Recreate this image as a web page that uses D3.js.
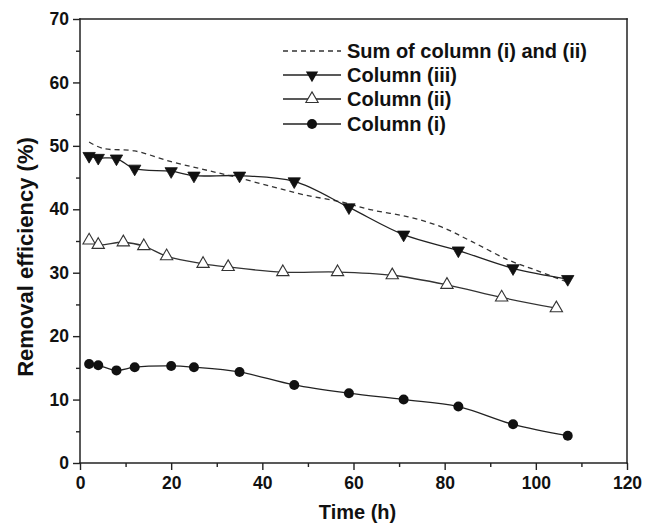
<!DOCTYPE html>
<html>
<head>
<meta charset="utf-8">
<script src="https://cdn.jsdelivr.net/npm/d3@7.9.0/dist/d3.min.js"></script>
<style>
  body { margin: 0; background: #fff; }
  svg text { font-family: "Liberation Sans", Arial, sans-serif; font-weight: bold; fill: #111; }
</style>
</head>
<body>
<svg width="646" height="524"></svg>
<script>
// time points (h)
const timeI = [2, 4, 8, 12, 20, 25, 35, 47, 59, 71, 83, 95, 107];
const timeII = [2, 4, 9.5, 14, 19, 27, 32.5, 44.5, 56.5, 68.5, 80.5, 92.5, 104.5];
const timeIII = [2, 4, 8, 12, 20, 25, 35, 47, 59, 71, 83, 95, 107];
const timeSum = [2, 5, 12, 20, 27, 34, 42, 49, 57, 64, 72, 79, 86, 94, 100, 107];

// removal efficiency (%)
const colI = [15.6, 15.4, 14.6, 15.1, 15.3, 15.1, 14.35, 12.3, 11.0, 10.0, 8.9, 6.1, 4.3];
const colII = [35.1, 34.4, 34.8, 34.2, 32.6, 31.4, 30.9, 30.1, 30.1, 29.6, 28.1, 26.1, 24.4];
const colIII = [48.4, 48.1, 48.0, 46.4, 46.0, 45.3, 45.3, 44.4, 40.3, 36.0, 33.5, 30.7, 29.0];
const sumI_II = [50.6, 49.6, 49.2, 47.5, 46.3, 45.1, 43.6, 42.3, 41.2, 39.9, 38.8, 37.3, 34.9, 32.0, 30.4, 28.5];

const xTicks = [0, 20, 40, 60, 80, 100, 120];
const yTicks = [0, 10, 20, 30, 40, 50, 60, 70];

const legendLabels = ["Sum of column (i) and (ii)", "Column (iii)", "Column (ii)", "Column (i)"];

const margin = { top: 19, right: 19, bottom: 61, left: 80 };
const width = 646, height = 524;

const svg = d3.select('svg');

let x = d3.scaleLinear().domain([0, 120]).range([margin.left, width - margin.right]);
let y = d3.scaleLinear().domain([0, 70]).range([height - margin.bottom, margin.top]);

const ink = '#222';

// x axis, major + minor ticks in separate groups
let xMinor = svg.append('g').attr('transform', `translate(0,${y(0)})`)
  .call(d3.axisBottom(x).tickValues(d3.range(10, 120, 20)).tickSize(4).tickFormat(''));
let xMajor = svg.append('g').attr('transform', `translate(0,${y(0)})`)
  .call(d3.axisBottom(x).tickValues(xTicks).tickSize(7).tickPadding(4).tickFormat(d3.format('d')));

let yMinor = svg.append('g').attr('transform', `translate(${x(0)},0)`)
  .call(d3.axisLeft(y).tickValues(d3.range(5, 70, 10)).tickSize(4).tickFormat(''));
let yMajor = svg.append('g').attr('transform', `translate(${x(0)},0)`)
  .call(d3.axisLeft(y).tickValues(yTicks).tickSize(7).tickPadding(4).tickFormat(d3.format('d')));

svg.selectAll('.domain').remove();
svg.selectAll('.tick line').attr('stroke', ink).attr('stroke-width', 1.4);
svg.selectAll('.tick text').attr('font-size', 17.5).attr('fill', '#111');
xMajor.selectAll('.tick text').attr('dy', '0.85em');

// frame
const frame = [
  [x(0), y(0), x(120), y(0)],
  [x(0), y(70), x(120), y(70)],
  [x(0), y(0), x(0), y(70)],
  [x(120), y(0), x(120), y(70)]
];
frame.forEach(([x1, y1, x2, y2]) => {
  svg.append('line')
    .attr('x1', x1).attr('y1', y1).attr('x2', x2).attr('y2', y2)
    .attr('stroke', ink).attr('stroke-width', 1.5).attr('stroke-linecap', 'square');
});

// axis titles
svg.append('text')
  .attr('x', (x(0) + x(120)) / 2 + 4).attr('y', 519)
  .attr('text-anchor', 'middle').attr('font-size', 20)
  .text('Time (h)');

svg.append('text')
  .attr('transform', `translate(33,${(y(0) + y(70)) / 2 + 16}) rotate(-90)`)
  .attr('text-anchor', 'middle').attr('font-size', 22)
  .text('Removal efficiency (%)');

// series
const curve = d3.curveCatmullRom.alpha(0.5);
function lineOf(xs, ys) {
  return d3.line().x((d, i) => x(xs[i])).y(d => y(d)).curve(curve)(ys);
}

svg.append('path').attr('d', lineOf(timeSum, sumI_II))
  .attr('fill', 'none').attr('stroke', '#333').attr('stroke-width', 1.3).attr('stroke-dasharray', '5,4');

svg.append('path').attr('d', lineOf(timeIII, colIII))
  .attr('fill', 'none').attr('stroke', ink).attr('stroke-width', 1.3);
svg.append('path').attr('d', lineOf(timeII, colII))
  .attr('fill', 'none').attr('stroke', '#333').attr('stroke-width', 1.3);
svg.append('path').attr('d', lineOf(timeI, colI))
  .attr('fill', 'none').attr('stroke', ink).attr('stroke-width', 1.3);

const triDown = d3.symbol().type(d3.symbolTriangle).size(66)();
const triUp = d3.symbol().type(d3.symbolTriangle).size(66)();
const dot = d3.symbol().type(d3.symbolCircle).size(78)();

colIII.forEach((v, i) => {
  svg.append('path').attr('d', triDown)
    .attr('transform', `translate(${x(timeIII[i])},${y(v)}) rotate(180)`)
    .attr('fill', '#111').attr('stroke', '#111').attr('stroke-width', 0.8);
});
colII.forEach((v, i) => {
  svg.append('path').attr('d', triUp)
    .attr('transform', `translate(${x(timeII[i])},${y(v)})`)
    .attr('fill', '#fff').attr('stroke', '#333').attr('stroke-width', 1.1);
});
colI.forEach((v, i) => {
  svg.append('path').attr('d', dot)
    .attr('transform', `translate(${x(timeI[i])},${y(v)})`)
    .attr('fill', '#111');
});

// legend
const legend = svg.append('g');
const lx0 = 283, lx1 = 341, tx = 347, rowY = [51, 75, 99, 124];
legendLabels.forEach((label, i) => {
  const cy = rowY[i];
  const ln = legend.append('line')
    .attr('x1', lx0).attr('x2', lx1).attr('y1', cy).attr('y2', cy)
    .attr('stroke', i === 0 ? '#333' : ink).attr('stroke-width', 1.3);
  if (i === 0) ln.attr('stroke-dasharray', '5,4');
  const mx = (lx0 + lx1) / 2;
  if (i === 1) legend.append('path').attr('d', triDown).attr('transform', `translate(${mx},${cy}) rotate(180)`).attr('fill', '#111');
  if (i === 2) legend.append('path').attr('d', triUp).attr('transform', `translate(${mx},${cy})`).attr('fill', '#fff').attr('stroke', '#333').attr('stroke-width', 1.1);
  if (i === 3) legend.append('path').attr('d', dot).attr('transform', `translate(${mx},${cy})`).attr('fill', '#111');
  legend.append('text')
    .attr('x', tx).attr('y', cy + 7)
    .attr('font-size', 20)
    .text(label);
});
</script>
</body>
</html>
